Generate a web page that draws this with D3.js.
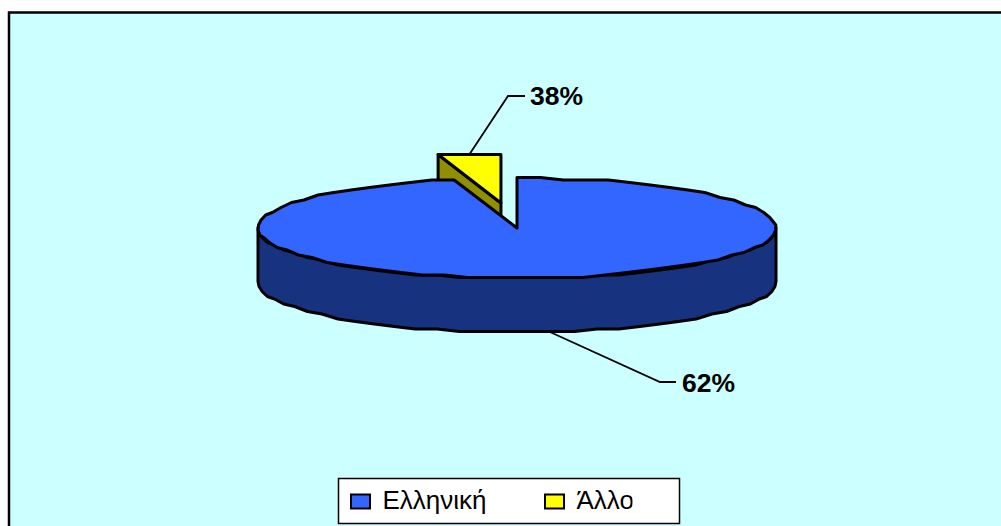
<!DOCTYPE html>
<html>
<head>
<meta charset="utf-8">
<style>
  body { margin: 0; background: #fff; }
  svg { display: block; font-family: "Liberation Sans", Arial, sans-serif; }
</style>
</head>
<body>
<div id="chart_area"></div>
<script src="https://cdn.jsdelivr.net/npm/d3@7"></script>
<script>
// Data
var categories = ["Ελληνική", "Άλλο"];
var value_labels = ["62%", "38%"];
// the wedge is drawn far thinner than its label says, so these are the drawn shares
var drawn_shares = [96.1, 3.9];
var top_colors = ["#3366ff", "#ffff00"];
var side_colors = ["#17337f", "#8f8f00"];

var frame = d3.select("#chart_area").append("svg")
    .attr("width", 1001)
    .attr("height", 526);

// Chart area, runs off the right and bottom of the image
frame.append("rect")
    .attr("x", 9).attr("y", 12.5)
    .attr("width", 1010).attr("height", 530)
    .attr("fill", "#ccffff")
    .attr("stroke", "#000")
    .attr("stroke-width", 2.5);

// Scales: unit circle to the tilted ellipse
var xScale = d3.scaleLinear().domain([-1, 1]).range([258, 776]);
var yScale = d3.scaleLinear().domain([-1, 1]).range([178, 278]);
var depth = 54;
var outline = 3;

var slices = d3.pie().sort(null)(drawn_shares);
var blue = slices[0];
var yellow = slices[1];

var line = d3.line();

// Rim as a coarse stepped polyline, the original is a low resolution metafile
function rim(a0, a1, dx, dy, drop) {
  var n = Math.max(2, Math.round((a1 - a0) / 0.09));
  return d3.range(n + 1).map(function(i) {
    var a = a0 + (a1 - a0) * i / n;
    var py = yScale(-Math.cos(a) + dy);
    return [xScale(Math.sin(a) + dx), Math.round(py / 2.5) * 2.5 + drop];
  });
}

function outlined(sel) {
  return sel.attr("stroke", "#000")
      .attr("stroke-width", outline)
      .attr("stroke-linejoin", "round");
}

// Exploded wedge first, the big slice covers the lower part of its wall
var ox = -0.062, oy = -0.5;
var y_top = rim(yellow.startAngle, yellow.endAngle, ox, oy, 0).map(function(p) { return [p[0], 154.5]; });
var y_tip = [xScale(ox), yScale(oy)];
var y_a = y_top[0];

outlined(frame.append("path")
    .attr("d", line([y_a, [y_a[0], y_a[1] + depth], [y_tip[0], y_tip[1] + depth], y_tip]) + "Z")
    .attr("fill", side_colors[1]));

outlined(frame.append("path")
    .attr("d", line(y_top.concat([y_tip])) + "Z")
    .attr("fill", top_colors[1]));

// Front wall of the big slice
var front = rim(Math.PI / 2, 3 * Math.PI / 2, 0, 0, 0);
var front_low = rim(Math.PI / 2, 3 * Math.PI / 2, 0, 0, depth).reverse();
outlined(frame.append("path")
    .attr("d", line(front.concat(front_low)) + "Z")
    .attr("fill", side_colors[0]));

// Top of the big slice
var center = [xScale(0), yScale(0)];
outlined(frame.append("path")
    .attr("d", line(rim(blue.startAngle, blue.endAngle, 0, 0, 0).concat([center])) + "Z")
    .attr("fill", top_colors[0]));

// Leader lines and value labels
var leaders = [
  {pts: [[550, 332], [660, 382], [676, 382]], x: 682, y: 391.5, label: value_labels[0]},
  {pts: [[469, 155], [508, 96], [525, 96]], x: 530, y: 105, label: value_labels[1]}
];
leaders.forEach(function(d) {
  frame.append("path")
      .attr("d", line(d.pts))
      .attr("fill", "none")
      .attr("stroke", "#000")
      .attr("stroke-width", 1.8);
  frame.append("text")
      .attr("x", d.x).attr("y", d.y)
      .attr("font-size", 26.5)
      .attr("font-weight", "bold")
      .attr("fill", "#000")
      .text(d.label);
});

// Legend
var legendX = d3.scalePoint().domain(categories).range([351, 545]);

frame.append("rect")
    .attr("x", 338.5).attr("y", 478.5)
    .attr("width", 341).attr("height", 45)
    .attr("fill", "#fff")
    .attr("stroke", "#000")
    .attr("stroke-width", 1.5);

// The last letter of the second entry is cut off in the original
frame.append("clipPath").attr("id", "legend_clip")
  .append("rect")
    .attr("x", 340).attr("y", 480)
    .attr("width", 292.5).attr("height", 43);

var legend = frame.append("g").attr("clip-path", "url(#legend_clip)");

categories.forEach(function(name, i) {
  legend.append("rect")
      .attr("x", legendX(name)).attr("y", 494.5)
      .attr("width", 19).attr("height", 14)
      .attr("fill", top_colors[i])
      .attr("stroke", "#000")
      .attr("stroke-width", 2);
  legend.append("text")
      .attr("x", legendX(name) + 31.5).attr("y", 509)
      .attr("font-size", 26)
      .attr("fill", "#000")
      .text(name);
});
</script>
</body>
</html>
